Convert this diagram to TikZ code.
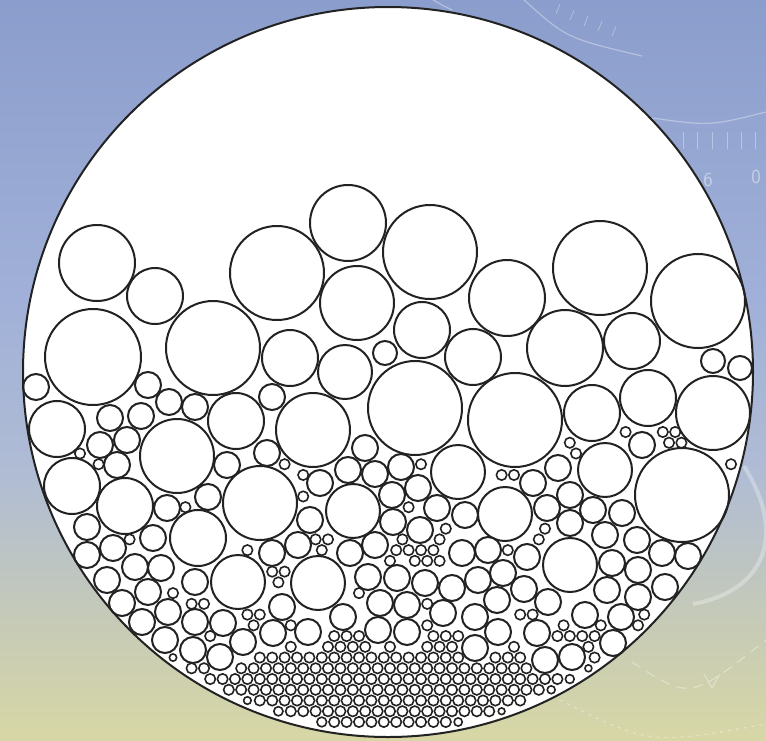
\documentclass[tikz,border=0pt]{standalone}
\usetikzlibrary{calc}
\definecolor{ctop}{RGB}{139,157,204}
\definecolor{cone}{RGB}{160,176,216}
\definecolor{ctwo}{RGB}{176,188,212}
\definecolor{cthree}{RGB}{200,204,180}
\definecolor{cbot}{RGB}{215,215,166}
\definecolor{ink}{RGB}{34,34,34}
\pgfdeclareverticalshading{bgshade}{100bp}{color(0bp)=(cbot); color(25bp)=(cbot); color(32bp)=(cthree); color(43bp)=(ctwo); color(55bp)=(cone); color(75bp)=(ctop); color(100bp)=(ctop)}
\newdimen\cdx \newdimen\cdy \newdimen\cdd \newdimen\cbest
\def\gapv{2.5pt}
\def\checkone#1#2#3{%
  \cdx=#1pt \advance\cdx-\cx pt
  \ifdim\cdx<0pt \cdx=-\cdx \fi
  \cdd=\cdx \advance\cdd-#3pt \advance\cdd-\gapv
  \ifdim\cdd<\cbest
    \cdy=#2pt \advance\cdy-\cy pt
    \ifdim\cdy<0pt \cdy=-\cdy \fi
    \cdd=\cdy \advance\cdd-#3pt \advance\cdd-\gapv
    \ifdim\cdd<\cbest
      \pgfmathveclen{\the\cdx}{\the\cdy}%
      \cdd=\pgfmathresult pt \advance\cdd-#3pt \advance\cdd-\gapv
      \ifdim\cdd<\cbest \cbest=\cdd \fi
    \fi
  \fi}
\def\clist{%
\C{97}{263}{38}\C{155}{296}{28}\C{277}{273}{47}\C{348}{223}{38}\C{430}{252}{47}
\C{357}{303}{37}\C{507}{298}{38}\C{600}{268}{47}\C{698}{301}{47}\C{93}{357}{48}
\C{213}{348}{47}\C{290}{358}{28}\C{345}{372}{27}\C{385}{353}{12}\C{422}{330}{28}
\C{473}{357}{28}\C{565}{348}{38}\C{632}{341}{28}\C{713}{361}{12}\C{740}{368}{12}
\C{36}{387}{13}\C{148}{385}{13}\C{57}{429}{28}\C{110}{418}{13}\C{141}{416}{13}
\C{169}{402}{13}\C{195}{407}{13}\C{236}{421}{28}\C{272}{397}{13}\C{313}{430}{37}
\C{415}{408}{47}\C{515}{420}{47}\C{592}{413}{28}\C{648}{398}{28}\C{713}{413}{37}
\C{100}{445}{13}\C{127}{440}{13}\C{177}{456}{37}\C{117}{465}{13}\C{72}{486}{28}
\C{125}{506}{28}\C{227}{465}{13}\C{208}{497}{13}\C{167}{508}{13}\C{198}{538}{28}
\C{87}{527}{13}\C{153}{538}{13}\C{113}{548}{13}\C{87}{555}{13}\C{260}{503}{37}
\C{267}{453}{13}\C{365}{448}{13}\C{348}{470}{13}\C{375}{474}{13}\C{401}{467}{13}
\C{458}{472}{27}\C{320}{483}{13}\C{353}{511}{27}\C{392}{495}{13}\C{418}{488}{13}
\C{310}{520}{13}\C{393}{522}{13}\C{420}{530}{13}\C{437}{508}{13}\C{465}{515}{13}
\C{505}{514}{27}\C{298}{545}{13}\C{350}{553}{13}\C{375}{545}{13}\C{462}{553}{13}
\C{488}{550}{13}\C{272}{553}{13}\C{238}{582}{27}\C{318}{583}{27}\C{642}{445}{13}
\C{605}{470}{27}\C{682}{495}{47}\C{558}{468}{13}\C{533}{483}{13}\C{570}{495}{13}
\C{547}{508}{13}\C{593}{510}{13}\C{622}{513}{13}\C{570}{523}{13}\C{605}{535}{13}
\C{637}{540}{13}\C{662}{553}{13}\C{688}{556}{13}\C{570}{565}{27}\C{527}{557}{13}
\C{612}{563}{13}\C{638}{570}{13}\C{607}{590}{13}\C{638}{597}{13}\C{665}{587}{13}
\C{548}{602}{13}\C{524}{589}{13}\C{585}{615}{13}\C{621}{617}{13}\C{537}{633}{13}
\C{613}{643}{13}\C{572}{657}{13}\C{545}{660}{13}\C{107}{580}{13}\C{135}{567}{13}
\C{161}{568}{13}\C{195}{582}{13}\C{148}{592}{13}\C{122}{603}{13}\C{168}{612}{13}
\C{195}{622}{13}\C{142}{622}{13}\C{165}{640}{13}\C{223}{623}{13}\C{193}{650}{13}
\C{220}{657}{13}\C{243}{642}{13}\C{282}{607}{13}\C{273}{633}{13}\C{368}{577}{13}
\C{397}{578}{13}\C{425}{583}{13}\C{452}{588}{13}\C{478}{580}{13}\C{503}{573}{13}
\C{497}{600}{13}\C{380}{603}{13}\C{407}{605}{13}\C{443}{613}{13}\C{475}{617}{13}
\C{343}{617}{13}\C{308}{632}{13}\C{378}{630}{13}\C{407}{632}{13}\C{498}{632}{13}
\C{475}{648}{13}}
\tikzset{
  bigc/.style={draw=ink, line width=2pt, fill=white},
  smallc/.style={draw=ink, line width=1.6pt, fill=white},
  rim/.style={draw=ink, line width=2pt},
  deco/.style={draw=white, draw opacity=0.35, line width=1.2pt},
  decotxt/.style={text=white, text opacity=0.45, font=\sffamily\fontsize{20}{20}\selectfont}
}
\begin{document}
\begin{tikzpicture}[x=1pt, y=-1pt]
\useasboundingbox (0,0) rectangle (766,740);
\shade[shading=bgshade] (0,0) rectangle (766,740);
% faint background decorations
\draw[deco] (522,-2) .. controls (566,38) .. (642,56);
\draw[deco] (430,-2) .. controls (440,4) .. (452,10);
\foreach \tx/\ty in {556/14,570/20,584/26,598/31,612/36}{\draw[deco, line width=0.8pt] (\tx,\ty) -- ++(4,-10);}
\draw[deco] (652,118) .. controls (710,126) .. (766,112);
\foreach \tx in {683,697,712,727,741,755}{\draw[deco, line width=0.8pt] (\tx,132) -- ++(0,17);}
\node[decotxt] (six) at (708,180) {6};
\node[decotxt] (zero) at (756,177) {0};
\draw[deco, line width=4pt, draw opacity=0.3] (744,466) .. controls (790,540) and (760,592) .. (693,604);
\draw[deco, dashed, dash pattern=on 10pt off 7pt] (632,662) .. controls (690,700) .. (766,640);
\draw[deco] (704,674) -- (712,688) -- (720,674);
\draw[deco, dash pattern=on 3pt off 5pt] (560,700) .. controls (650,745) .. (766,724);
% container
\fill[white] (388,372) circle[radius=365pt];
\def\C#1#2#3{\draw[bigc] (#1,#2) circle[radius=#3pt];}
\clist
\foreach \row in {0,...,29}{%
  \pgfmathsetmacro\cy{432+\row*10.74}%
  \pgfmathsetmacro\xoff{mod(\row,2)*6.2}%
  \foreach \col in {0,...,60}{%
    \pgfmathsetmacro\cx{18+\xoff+\col*12.4}%
    \pgfmathsetmacro\dzero{361-10*veclen((\cx-388)/10,(\cy-372)/10)}%
    \ifdim\dzero pt>3.2pt
      \cbest=5.2pt
      \ifdim\dzero pt<\cbest \cbest=\dzero pt\fi
      \let\C\checkone
      \clist
      \ifdim\cbest>3.2pt
        \draw[smallc] (\cx,\cy) circle[radius=\the\cbest];
      \fi
    \fi
  }}
\draw[rim] (388,372) circle[radius=365pt];
\end{tikzpicture}
\end{document}
